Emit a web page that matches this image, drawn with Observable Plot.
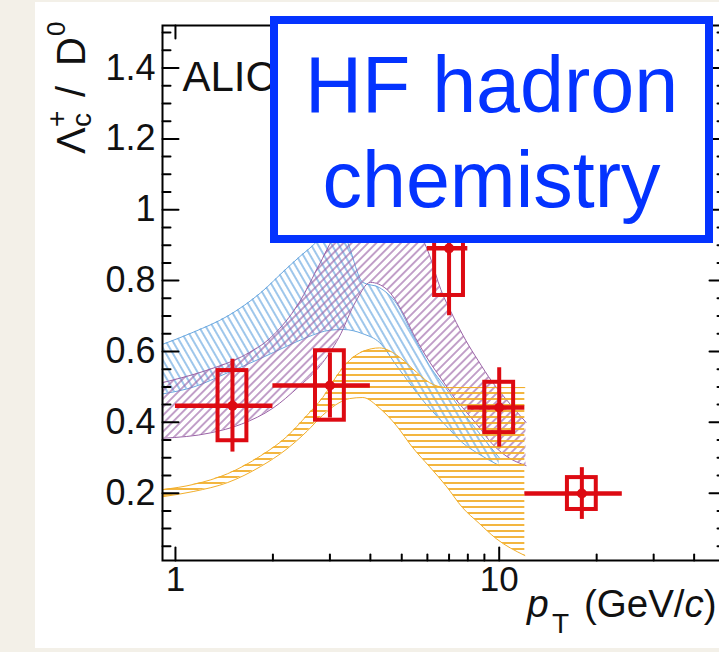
<!DOCTYPE html>
<html>
<head>
<meta charset="utf-8">
<script src="https://cdn.jsdelivr.net/npm/d3@7"></script>
<script src="https://cdn.jsdelivr.net/npm/@observablehq/plot@0.6"></script>
<style>
  html, body { margin: 0; padding: 0; width: 719px; height: 652px; overflow: hidden; background: #f3f0e8; }
  #panel { position: absolute; left: 35px; top: 2px; width: 684px; height: 646px; background: #fff; }
  #chart { position: absolute; left: 0; top: 0; width: 727px; height: 652px; }
  #chart svg { max-width: none !important; }
</style>
</head>
<body>
<div id="panel"></div>
<div id="chart"></div>
<script>
// Λc+/D0 measurement: bin centres, bin edges, value, statistical and systematic errors
const ptCenter = [1.5, 3, 7, 10, 18];
const ptLow    = [1, 2, 6, 8, 12];
const ptHigh   = [2, 4, 8, 12, 24];
const ratio    = [0.447, 0.504, 0.891, 0.442, 0.199];
const statErr  = [0.131, 0.092, 0.19, 0.112, 0.073];
const systErr  = [0.099, 0.098, 0.133, 0.071, 0.045];

// Model band 1 (blue, "\\\" hatch)
const bluePt   = [0.912, 1.14, 1.45, 1.83, 2.21, 2.55, 3.0, 3.3, 3.79, 4.27, 4.82, 5.39, 6.09, 6.86, 7.69, 8.67, 10];
const blueLow  = [0.48, 0.50, 0.54, 0.58, 0.615, 0.64, 0.66, 0.662, 0.65, 0.625, 0.56, 0.50, 0.44, 0.39, 0.343, 0.31, 0.278];
const blueHigh = [0.62, 0.655, 0.70, 0.765, 0.835, 0.885, 0.93, 0.925, 0.795, 0.78, 0.735, 0.65, 0.56, 0.495, 0.43, 0.37, 0.30];

// Model band 2 (purple, "///" hatch)
const purplePt   = [0.912, 1.28, 1.6, 2.0, 2.4, 2.8, 3.2, 3.6, 4.0, 4.5, 5.0, 5.5, 6.1, 6.6, 7.2, 7.9, 8.6, 9.5, 10.5, 12.1];
const purpleLow  = [0.355, 0.37, 0.395, 0.44, 0.50, 0.56, 0.64, 0.74, 0.795, 0.775, 0.715, 0.64, 0.57, 0.525, 0.475, 0.43, 0.39, 0.34, 0.305, 0.278];
const purpleHigh = [0.512, 0.55, 0.585, 0.645, 0.735, 0.85, 0.95, 1.01, 1.04, 1.05, 1.02, 0.96, 0.87, 0.775, 0.70, 0.63, 0.575, 0.515, 0.465, 0.40];

// Model band 3 (yellow, horizontal hatch)
const yellowPt   = [0.912, 1.14, 1.45, 1.83, 2.21, 2.55, 2.85, 3.2, 3.45, 3.79, 4.27, 4.82, 5.39, 6.09, 6.86, 7.69, 8.67, 9.78, 12];
const yellowLow  = [0.19, 0.205, 0.23, 0.275, 0.325, 0.375, 0.42, 0.455, 0.467, 0.47, 0.44, 0.39, 0.33, 0.275, 0.22, 0.16, 0.115, 0.072, 0.024];
const yellowHigh = [0.21, 0.225, 0.255, 0.305, 0.36, 0.42, 0.47, 0.54, 0.575, 0.60, 0.61, 0.59, 0.552, 0.512, 0.498, 0.498, 0.498, 0.498, 0.498];

// Axis ticks and labels
const yTicks = [0.2, 0.4, 0.6, 0.8, 1, 1.2, 1.4];
const yTickLabels = ["0.2", "0.4", "0.6", "0.8", "1", "1.2", "1.4"];
const xTicks = [1, 10];
const xTickLabels = ["1", "10"];
const xMinorTicks = [2, 3, 4, 5, 6, 7, 8, 9, 20, 30, 40];

const red = "#dd0a12";
const blueBox = "#0433ff";
const boxFactor = 1.108; // half-width of the systematic boxes on the log axis
const font = "'Liberation Sans', Arial, Helvetica, sans-serif";

const points = ptCenter.map((pt, i) => ({
  pt, lo: ptLow[i], hi: ptHigh[i], v: ratio[i], stat: statErr[i], syst: systErr[i]
}));
const band = (pt, low, high) => pt.map((x, i) => ({x, low: low[i], high: high[i]}));
const blue = band(bluePt, blueLow, blueHigh);
const purple = band(purplePt, purpleLow, purpleHigh);
const yellow = band(yellowPt, yellowLow, yellowHigh);

const yMinorTicks = d3.range(0.05, 1.51, 0.05)
  .filter(v => Math.abs(v / 0.2 - Math.round(v / 0.2)) > 1e-6);

function bandMarks(data, pattern, color) {
  return [
    Plot.areaY(data, {x: "x", y1: "low", y2: "high", fill: `url(#${pattern})`, curve: "monotone-x"}),
    Plot.lineY(data, {x: "x", y: "low", stroke: color, strokeWidth: 1, curve: "monotone-x"}),
    Plot.lineY(data, {x: "x", y: "high", stroke: color, strokeWidth: 1, curve: "monotone-x"})
  ];
}

// straight tick segment drawn from the frame edge inward
const tickShape = {draw(context, l) { context.moveTo(0, 0); context.lineTo(0, -l); }};

function ticks(values, anchor, length, rotate) {
  return Plot.vector(values, {
    [anchor === "left" || anchor === "right" ? "y" : "x"]: d => d,
    frameAnchor: anchor, length, rotate, anchor: "start", shape: tickShape,
    stroke: "black", strokeWidth: 2
  });
}

const chart = Plot.plot({
  width: 727,
  height: 652,
  marginLeft: 162,
  marginRight: 2,
  marginTop: 25,
  marginBottom: 92,
  x: {type: "log", domain: [0.912, 50], axis: null},
  y: {domain: [0.01, 1.52], axis: null},
  style: {fontFamily: font, background: "transparent", overflow: "visible", maxWidth: "none"},
  marks: [
    ...bandMarks(blue, "hatch-blue", "#6aa8e0"),
    ...bandMarks(purple, "hatch-purple", "#9a62a6"),
    ...bandMarks(yellow, "hatch-yellow", "#f2ae2a"),

    // systematic boxes
    Plot.rect(points, {
      x1: d => d.pt / boxFactor, x2: d => d.pt * boxFactor,
      y1: d => d.v - d.syst, y2: d => d.v + d.syst,
      fill: "none", stroke: red, strokeWidth: 4
    }),
    // statistical error bars and bin widths
    Plot.ruleX(points, {x: "pt", y1: d => d.v - d.stat, y2: d => d.v + d.stat, stroke: red, strokeWidth: 4}),
    Plot.ruleY(points, {y: "v", x1: "lo", x2: "hi", stroke: red, strokeWidth: 4.5}),
    Plot.dot(points, {x: "pt", y: "v", r: 5, fill: red}),

    // frame and inward ticks on all four sides
    Plot.frame({stroke: "black", strokeWidth: 2}),
    ticks(yTicks, "left", 16, 90),
    ticks(yMinorTicks, "left", 8, 90),
    ticks(yTicks, "right", 16, -90),
    ticks(yMinorTicks, "right", 8, -90),
    ticks(xTicks, "bottom", 13, 0),
    ticks(xMinorTicks, "bottom", 6, 0),
    ticks(xTicks, "top", 13, 180),
    ticks(xMinorTicks, "top", 6, 180),

    // tick labels
    Plot.text(yTicks, {y: d => d, text: (d, i) => yTickLabels[i], frameAnchor: "left",
      dx: -7, textAnchor: "end", fontSize: 36, fill: "#111"}),
    Plot.text(xTicks, {x: d => d, text: (d, i) => xTickLabels[i], frameAnchor: "bottom",
      dy: 30, fontSize: 35, fill: "#111"}),

    // experiment label
    Plot.text(["ALICE"], {frameAnchor: "top-left", dx: 20, dy: 36, textAnchor: "start",
      fontSize: 42, fill: "#111"})
  ]
});
chart.style.maxWidth = "none";

const svg = d3.select(chart);

// hatch patterns for the model bands
const defs = svg.insert("defs", ":first-child");
function hatch(id, angle, gap, color, width) {
  const p = defs.append("pattern")
    .attr("id", id)
    .attr("patternUnits", "userSpaceOnUse")
    .attr("width", gap).attr("height", gap)
    .attr("patternTransform", `rotate(${angle})`);
  p.append("line")
    .attr("x1", gap / 2).attr("x2", gap / 2)
    .attr("y1", 0).attr("y2", gap)
    .attr("stroke", color).attr("stroke-width", width);
}
hatch("hatch-blue", -30, 6, "#6aa8e0", 1.3);
hatch("hatch-purple", 45, 5.8, "#9a62a6", 1.2);
hatch("hatch-yellow", 90, 6, "#f2ae2a", 1.8);

// y-axis title: Λc+ / D0, reading bottom to top
const yt = svg.append("g")
  .attr("transform", "translate(85,154) rotate(-90)")
  .attr("font-family", font)
  .attr("text-anchor", "start")
  .attr("fill", "#111");
yt.append("text").attr("x", 0).attr("y", 0).attr("font-size", 40).text("Λ");
yt.append("text").attr("x", 27).attr("y", 6).attr("font-size", 28).text("c");
yt.append("text").attr("x", 27).attr("y", -19).attr("font-size", 28).text("+");
yt.append("text").attr("x", 57).attr("y", 0).attr("font-size", 40).text("/");
yt.append("text").attr("x", 88).attr("y", 0).attr("font-size", 40).text("D");
yt.append("text").attr("x", 118).attr("y", -20).attr("font-size", 26).text("0");

// x-axis title: pT (GeV/c)
const xt = svg.append("g").attr("font-family", font).attr("text-anchor", "start").attr("fill", "#111");
xt.append("text").attr("x", 527).attr("y", 617).attr("font-size", 39)
  .attr("font-style", "italic").text("p");
xt.append("text").attr("x", 552).attr("y", 633).attr("font-size", 28).text("T");
const unit = xt.append("text").attr("x", 584).attr("y", 617).attr("font-size", 38.5);
unit.append("tspan").text("(GeV/");
unit.append("tspan").attr("font-style", "italic").text("c");
unit.append("tspan").text(")");

// highlighted annotation box
const note = svg.append("g");
note.append("rect")
  .attr("x", 274).attr("y", 20).attr("width", 435).attr("height", 219)
  .attr("fill", "#fff").attr("stroke", blueBox).attr("stroke-width", 8);
note.append("text")
  .attr("x", 491.5).attr("y", 112).attr("text-anchor", "middle")
  .attr("font-family", font).attr("font-size", 79).attr("fill", blueBox)
  .text("HF hadron");
note.append("text")
  .attr("x", 491.5).attr("y", 207).attr("text-anchor", "middle")
  .attr("font-family", font).attr("font-size", 79).attr("fill", blueBox)
  .text("chemistry");

document.getElementById("chart").appendChild(chart);
</script>
</body>
</html>
